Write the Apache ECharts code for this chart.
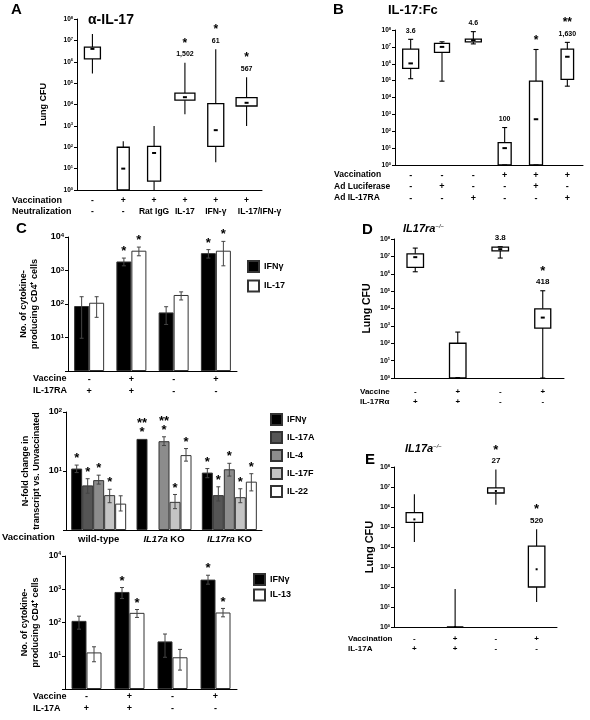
<!DOCTYPE html>
<html><head><meta charset="utf-8">
<script src="https://cdn.jsdelivr.net/npm/echarts@6/dist/echarts.min.js"></script>
<style>html,body{margin:0;padding:0;background:#fff}#c{width:590px;height:720px}</style>
</head><body><div id="c"></div>
<script>
const FONT = '"Liberation Sans", Arial, sans-serif';

// ---------- Panel A ----------
const aCats = ['a1','a2','a3','a4','a5','a6'];
const aVaccination = ['-','+','+','+','+','+'];
const aNeutralization = ['-','-','Rat IgG','IL-17','IFN-γ','IL-17/IFN-γ'];
// [low whisker, Q1, median, Q3, high whisker]
const aBoxes = [[2.8e5,1.35e6,4e6,4.8e6,2e7],[1,1,10,100,190],[1,2.6,54,110,1000],[3.5e3,1.6e4,2.2e4,3.4e4,9e5],[20,110,630,1.1e4,3.8e6],[1000,8.5e3,1.2e4,2.1e4,1.9e5]];
const aNotes = ['','','','*\n1,502','*\n61','*\n567'];
const aTickExp = ['0','1','2','3','4','5','6','7','8'];

// ---------- Panel B ----------
const bCats = ['b1','b2','b3','b4','b5','b6'];
const bVaccination = ['-','-','-','+','+','+'];
const bLuciferase = ['-','+','-','-','+','-'];
const bIL17RA = ['-','-','+','-','-','+'];
const bBoxes = [[1.3e5,5.3e5,1.05e6,7.4e6,2.8e7],[9.3e4,4.7e6,1e7,1.6e7,2e7],[1.5e7,2e7,2.5e7,2.9e7,8e7],[1,1,10,21,166],[1,1,515,9.3e4,7e6],[4.7e4,1.2e5,2.6e6,7.4e6,1.85e7]];
const bNotes = ['3.6','','4.6','100','*','**\n1,630'];
const bTickExp = ['0','1','2','3','4','5','6','7','8'];

// ---------- Panel C (top) ----------
const ctCats = ['c1','c2','c3','c4'];
const ctVaccine = ['-','+','-','+'];
const ctIL17RA = ['+','+','-','-'];
const ctIFNg = [87,1860,56,3300];
const ctIFNgErr = [[9.5,165],[1380,2350],[24.5,83],[2350,4200]];
const ctIFNgStars = ['','*','','*'];
const ctIL17 = [109,3900,186,3900];
const ctIL17Err = [[40,165],[2750,5000],[132,230],[1380,7400]];
const ctIL17Stars = ['','*','','*'];
const ctTickExp = ['','1','2','3','4'];

// ---------- Panel C (middle) ----------
const cmCats = ['wild-type','IL17a KO','IL17ra KO'];
const cmIFNg = [11,35,9.4];
const cmIFNgErr = [[9.4,12.6],[35,35],[7.7,11]];
const cmIFNgStars = ['*','**\n*','*'];
const cmIL17A = [5.7,null,3.9];
const cmIL17AErr = [[4.2,7.4],null,[3.1,5.4]];
const cmIL17AStars = ['*','','*'];
const cmIL4 = [7.0,32,10.7];
const cmIL4Err = [[6.0,8.5],[27,38],[8.2,13.5]];
const cmIL4Stars = ['*','**\n*','*'];
const cmIL17F = [3.9,3.0,3.6];
const cmIL17FErr = [[2.9,4.9],[2.3,4.0],[2.9,5.0]];
const cmIL17FStars = ['*','*','*'];
const cmIL22 = [2.8,18.6,6.6];
const cmIL22Err = [[2.1,3.8],[14.7,24],[4.6,9.0]];
const cmIL22Stars = ['','*','*'];
const cmTickExp = ['','1','2'];

// ---------- Panel C (bottom) ----------
const cbCats = ['d1','d2','d3','d4'];
const cbVaccine = ['-','+','-','+'];
const cbIL17A = ['+','+','-','-'];
const cbIFNg = [112,830,27,1950];
const cbIFNgErr = [[63,155],[525,1130],[9,45],[1420,2640]];
const cbIFNgStars = ['','*','','*'];
const cbIL13 = [12.6,195,9,200];
const cbIL13Err = [[6.6,18.6],[142,246],[3.7,15.5],[148,265]];
const cbIL13Stars = ['','*','','*'];
const cbTickExp = ['','1','2','3','4'];

// ---------- Panel D ----------
const dCats = ['e1','e2','e3','e4'];
const dVaccine = ['-','+','-','+'];
const dIL17Ra = ['+','+','-','-'];
const dBoxes = [[1.3e6,2.3e6,9e6,1.4e7,3e7],[1,1,1,100,440],[8e6,2.1e7,2.6e7,3.4e7,3.6e7],[1,750,3000,9.6e3,1.05e5]];
const dNotes = ['','','3.8','*\n418'];
const dTickExp = ['0','1','2','3','4','5','6','7','8'];

// ---------- Panel E ----------
const eCats = ['f1','f2','f3','f4'];
const eVaccination = ['-','+','-','+'];
const eIL17A = ['+','+','-','-'];
const eBoxes = [[1.8e4,1.7e5,2.4e5,5.2e5,4.3e6],[1,1,1,1,80],[1.3e6,5e6,6.3e6,9e6,7.4e7],[18,100,770,1.1e4,7.7e4]];
const eNotes = ['','','*\n27','*\n520'];
const eTickExp = ['0','1','2','3','4','5','6','7','8'];

// ---------- helpers ----------
function logAxis(gi, maxExp, exps, o) {
  return {
    type:'log', logBase:10, gridIndex:gi, min:1, max:Math.pow(10,maxExp), splitNumber:maxExp,
    splitLine:{show:false}, minorTick:{show:false},
    axisLine:{show:true, onZero:false, lineStyle:{color:'#000', width:1}},
    axisTick:{show:true, length:3, lineStyle:{color:'#000'}},
    axisLabel:{margin:o.margin||4,
      formatter: v => { const e = exps[Math.round(Math.log10(v))]; return e ? '{b|10}{s|'+e+'}' : ''; },
      rich:{ b:{fontSize:o.fs, fontWeight:'bold', fontFamily:FONT, color:'#000'},
             s:{fontSize:Math.max(4,Math.round(o.fs*0.62)), fontWeight:'bold', fontFamily:FONT, color:'#000', verticalAlign:'top'} } },
    name:o.name||'', nameLocation:'middle', nameGap:o.nameGap||28, nameRotate:90,
    nameTextStyle:{fontSize:o.nameFs||9, fontWeight:'bold', fontFamily:FONT, color:'#000', lineHeight:o.nameLh||11}
  };
}
function catAxis(gi, cats, rows, o) {
  return {type:'category', gridIndex:gi, data:cats,
    axisLine:{lineStyle:{color:'#000', width:1}}, axisTick:{length:3, lineStyle:{color:'#000'}},
    axisLabel:{interval:0, margin:o.margin, lineHeight:o.lh, fontSize:o.fs, fontWeight:'bold', fontFamily:FONT, color:'#000',
      formatter: o.formatter || ((v,i)=> rows.map(r=>r[i]).join('\n')), rich:o.rich}
  };
}
function noteText(s) {
  return s.split('\n').map(l => /\*/.test(l) ? '{st|'+l+'}' : '{n|'+l+'}').join('\n');
}
function boxSeries(gi, boxes, widths, notes, o) {
  return {
    type:'custom', xAxisIndex:gi, yAxisIndex:gi, z:5,
    data: boxes.map((b,i)=>[i].concat(b)),
    encode:{x:0, y:[1,2,3,4,5]},
    renderItem:(params, api)=>{
      const i = api.value(0);
      const p = k => api.coord([i, api.value(k)]);
      const lo=p(1), q1=p(2), med=p(3), q3=p(4), hi=p(5);
      const x = lo[0], w = widths[i];
      const st = {stroke:'#000', lineWidth:1.1, fill:null};
      const ch = [
        {type:'line', shape:{x1:x,y1:hi[1],x2:x,y2:q3[1]}, style:st},
        {type:'line', shape:{x1:x,y1:q1[1],x2:x,y2:lo[1]}, style:st},
        {type:'rect', shape:{x:x-w/2,y:q3[1],width:w,height:Math.max(0,q1[1]-q3[1])}, style:{stroke:'#000',lineWidth:1.3,fill:'#fff'}},
        {type:'rect', shape:{x:x-o.md/2, y:med[1]-1, width:o.md, height:o.mh||2}, style:{fill:'#000'}}
      ];
      if (o.caps) {
        ch.push({type:'line', shape:{x1:x-2.5,y1:hi[1],x2:x+2.5,y2:hi[1]}, style:st});
        ch.push({type:'line', shape:{x1:x-2.5,y1:lo[1],x2:x+2.5,y2:lo[1]}, style:st});
      }
      if (notes[i]) ch.push({type:'text', style:{text:noteText(notes[i]), x:x, y:hi[1]-o.gap, align:'center', verticalAlign:'bottom',
        fill:'#000',
        rich:{ n:{fontSize:o.fs, fontWeight:'bold', fontFamily:FONT, fill:'#000', lineHeight:o.lh},
               st:{fontSize:o.fs+5, fontWeight:'bold', fontFamily:FONT, fill:'#000', lineHeight:o.lh}}}});
      return {type:'group', children:ch};
    }
  };
}
function barSeries(gi, name, vals, color, bw) {
  return {type:'bar', name:name, xAxisIndex:gi, yAxisIndex:gi, data:vals, barWidth:bw, barGap:'0%',
    itemStyle:{color:color, borderColor:'#333', borderWidth:1}, z:2, silent:true};
}
function errSeries(gi, errs, stars, k, n, bw, fs) {
  const data = [];
  errs.forEach((e,i)=>{ if (e) data.push([i, e[0], e[1]]); });
  return {type:'custom', xAxisIndex:gi, yAxisIndex:gi, z:6, data:data, encode:{x:0, y:[1,2]},
    renderItem:(params, api)=>{
      const i = api.value(0);
      const lo = api.coord([i, api.value(1)]), hi = api.coord([i, api.value(2)]);
      const x = lo[0] + (k-(n-1)/2)*bw;
      const st = {stroke:'#444', lineWidth:1};
      const ch = [];
      if (Math.abs(lo[1]-hi[1]) > 0.5) {
        ch.push({type:'line', shape:{x1:x,y1:lo[1],x2:x,y2:hi[1]}, style:st});
        ch.push({type:'line', shape:{x1:x-2,y1:lo[1],x2:x+2,y2:lo[1]}, style:st});
        ch.push({type:'line', shape:{x1:x-2,y1:hi[1],x2:x+2,y2:hi[1]}, style:st});
      }
      if (stars[i]) ch.push({type:'text', style:{text:stars[i], x:x, y:hi[1]-2, align:'center', verticalAlign:'bottom',
        fontSize:fs, fontWeight:'bold', fontFamily:FONT, fill:'#000', lineHeight:9}});
      return {type:'group', children:ch};
    }};
}
function txt(s, x, y, fs, extra) {
  return {type:'text', x:x, y:y, silent:true,
    style:Object.assign({text:s, fontSize:fs, fontWeight:'bold', fontFamily:FONT, fill:'#000', align:'left', verticalAlign:'middle'}, extra||{})};
}
const rowRich = {w:{fontSize:8.5, fontWeight:'bold', fontFamily:FONT, color:'#000', padding:[0,0,0,26]}};

const chart = echarts.init(document.getElementById('c'));
const option = {
  animation:false,
  backgroundColor:'#fff',
  grid:[
    {left:77, top:19, width:185, height:171, outerBoundsMode:'none'},
    {left:395, top:30, width:188, height:135, outerBoundsMode:'none'},
    {left:68, top:237, width:169, height:134, outerBoundsMode:'none'},
    {left:66, top:412, width:196, height:118, outerBoundsMode:'none'},
    {left:65, top:556, width:172, height:133, outerBoundsMode:'none'},
    {left:394, top:239, width:170, height:139, outerBoundsMode:'none'},
    {left:394, top:467, width:163, height:160, outerBoundsMode:'none'}
  ],
  xAxis:[
    catAxis(0, aCats, [], {margin:5.5, lh:11, fs:8.5, rich:rowRich,
      formatter:(v,i)=> aVaccination[i] + '\n' + (aNeutralization[i].length > 8 ? '{w|'+aNeutralization[i]+'}' : aNeutralization[i])}),
    catAxis(1, bCats, [bVaccination, bLuciferase, bIL17RA], {margin:4.5, lh:11.5, fs:9}),
    catAxis(2, ctCats, [ctVaccine, ctIL17RA], {margin:3, lh:12, fs:9}),
    catAxis(3, cmCats, [], {margin:3, lh:12, fs:9.5,
      formatter:(v)=> v.replace(/^(IL17\w+)(.*)$/, '{i|$1}{n|$2}'),
      rich:{i:{fontStyle:'italic', fontWeight:'bold', fontSize:9.5, fontFamily:FONT, color:'#000'}, n:{fontWeight:'bold', fontSize:9.5, fontFamily:FONT, color:'#000'}}}),
    catAxis(4, cbCats, [cbVaccine, cbIL17A], {margin:2, lh:12, fs:9}),
    catAxis(5, dCats, [dVaccine, dIL17Ra], {margin:8.5, lh:10, fs:8}),
    catAxis(6, eCats, [eVaccination, eIL17A], {margin:7, lh:10, fs:8})
  ],
  yAxis:[
    logAxis(0, 8, aTickExp, {fs:6.5, name:'Lung CFU', nameGap:28, nameFs:9}),
    logAxis(1, 8, bTickExp, {fs:6.5}),
    logAxis(2, 4, ctTickExp, {fs:9, name:'No. of cytokine-\nproducing CD4⁺ cells', nameGap:28, nameFs:9, nameLh:11}),
    logAxis(3, 2, cmTickExp, {fs:9, name:'N-fold change in\ntranscript vs. Unvaccinated', nameGap:24, nameFs:9, nameLh:11}),
    logAxis(4, 4, cbTickExp, {fs:8.5, name:'No. of cytokine-\nproducing CD4⁺ cells', nameGap:24, nameFs:9, nameLh:11}),
    logAxis(5, 8, dTickExp, {fs:7, name:'Lung CFU', nameGap:21, nameFs:10.5}),
    logAxis(6, 8, eTickExp, {fs:7, name:'Lung CFU', nameGap:19, nameFs:11})
  ],
  legend:[
    {data:['IFNγ','IL-17'], left:242, top:255, orient:'vertical', icon:'rect', itemWidth:11, itemHeight:11, itemGap:6.5, selectedMode:false,
     textStyle:{fontSize:9, fontWeight:'bold', fontFamily:FONT, color:'#000'}},
    {data:['IFNγ','IL-17A','IL-4','IL-17F','IL-22'], left:265, top:408, orient:'vertical', icon:'rect', itemWidth:11, itemHeight:11, itemGap:5, selectedMode:false,
     textStyle:{fontSize:9, fontWeight:'bold', fontFamily:FONT, color:'#000'}},
    {data:['IFNγ','IL-13'], left:248, top:568, orient:'vertical', icon:'rect', itemWidth:11, itemHeight:11, itemGap:2.5, selectedMode:false,
     textStyle:{fontSize:9, fontWeight:'bold', fontFamily:FONT, color:'#000'}}
  ],
  series:[
    boxSeries(0, aBoxes, [16,12,13,20,16,21], aNotes, {md:4, gap:3, fs:7, lh:11}),
    boxSeries(1, bBoxes, [16,15,16,13,13,12.5], bNotes, {md:4.5, gap:3, fs:7, lh:11, caps:true}),
    boxSeries(5, dBoxes, [16.5,16.5,16.5,16], dNotes, {md:4, gap:3, fs:8, lh:11, caps:true}),
    boxSeries(6, eBoxes, [16.5,16.5,16.5,16.5], eNotes, {md:2, mh:2, gap:3, fs:8, lh:11}),

    barSeries(2, 'IFNγ', ctIFNg, '#000', 15),
    barSeries(2, 'IL-17', ctIL17, '#fff', 15),
    errSeries(2, ctIFNgErr, ctIFNgStars, 0, 2, 15, 13),
    errSeries(2, ctIL17Err, ctIL17Stars, 1, 2, 15, 13),

    barSeries(3, 'IFNγ', cmIFNg, '#000', 11),
    barSeries(3, 'IL-17A', cmIL17A, '#555', 11),
    barSeries(3, 'IL-4', cmIL4, '#8c8c8c', 11),
    barSeries(3, 'IL-17F', cmIL17F, '#c4c4c4', 11),
    barSeries(3, 'IL-22', cmIL22, '#fff', 11),
    errSeries(3, cmIFNgErr, cmIFNgStars, 0, 5, 11, 13),
    errSeries(3, cmIL17AErr, cmIL17AStars, 1, 5, 11, 13),
    errSeries(3, cmIL4Err, cmIL4Stars, 2, 5, 11, 13),
    errSeries(3, cmIL17FErr, cmIL17FStars, 3, 5, 11, 13),
    errSeries(3, cmIL22Err, cmIL22Stars, 4, 5, 11, 13),

    barSeries(4, 'IFNγ', cbIFNg, '#000', 15),
    barSeries(4, 'IL-13', cbIL13, '#fff', 15),
    errSeries(4, cbIFNgErr, cbIFNgStars, 0, 2, 15, 13),
    errSeries(4, cbIL13Err, cbIL13Stars, 1, 2, 15, 13)
  ],
  graphic:[
    txt('A', 11, 10, 15),
    txt('α-IL-17', 88, 20, 14),
    txt('Vaccination', 12, 201, 9),
    txt('Neutralization', 12, 212, 9),

    txt('B', 333, 10, 15),
    txt('IL-17:Fc', 388, 10, 13),
    txt('Vaccination', 334, 175, 8.5),
    txt('Ad Luciferase', 334, 187, 8.5),
    txt('Ad IL-17RA', 334, 198, 8.5),

    txt('C', 16, 229, 15),
    txt('Vaccine', 33, 379, 9),
    txt('IL-17RA', 33, 391, 9),
    txt('Vaccination', 2, 537, 9.5),
    txt('Vaccine', 33, 697, 9),
    txt('IL-17A', 33, 709, 9),

    txt('D', 362, 230, 15),
    {type:'text', x:403, y:229, silent:true, style:{text:'{a|IL17ra}{s|−/−}', fill:'#000', verticalAlign:'middle',
      rich:{a:{fontSize:11, fontWeight:'bold', fontStyle:'italic', fontFamily:FONT, fill:'#000'}, s:{fontSize:6, fontStyle:'italic', fontFamily:FONT, fill:'#000', verticalAlign:'top'}}}},
    txt('Vaccine', 360, 392, 8),
    txt('IL-17Rα', 360, 402, 8),

    txt('E', 365, 460, 15),
    {type:'text', x:405, y:449, silent:true, style:{text:'{a|IL17a}{s|−/−}', fill:'#000', verticalAlign:'middle',
      rich:{a:{fontSize:11, fontWeight:'bold', fontStyle:'italic', fontFamily:FONT, fill:'#000'}, s:{fontSize:6, fontStyle:'italic', fontFamily:FONT, fill:'#000', verticalAlign:'top'}}}},
    txt('Vaccination', 348, 639, 8),
    txt('IL-17A', 348, 649, 8)
  ]
};
chart.setOption(option);
</script></body></html>
